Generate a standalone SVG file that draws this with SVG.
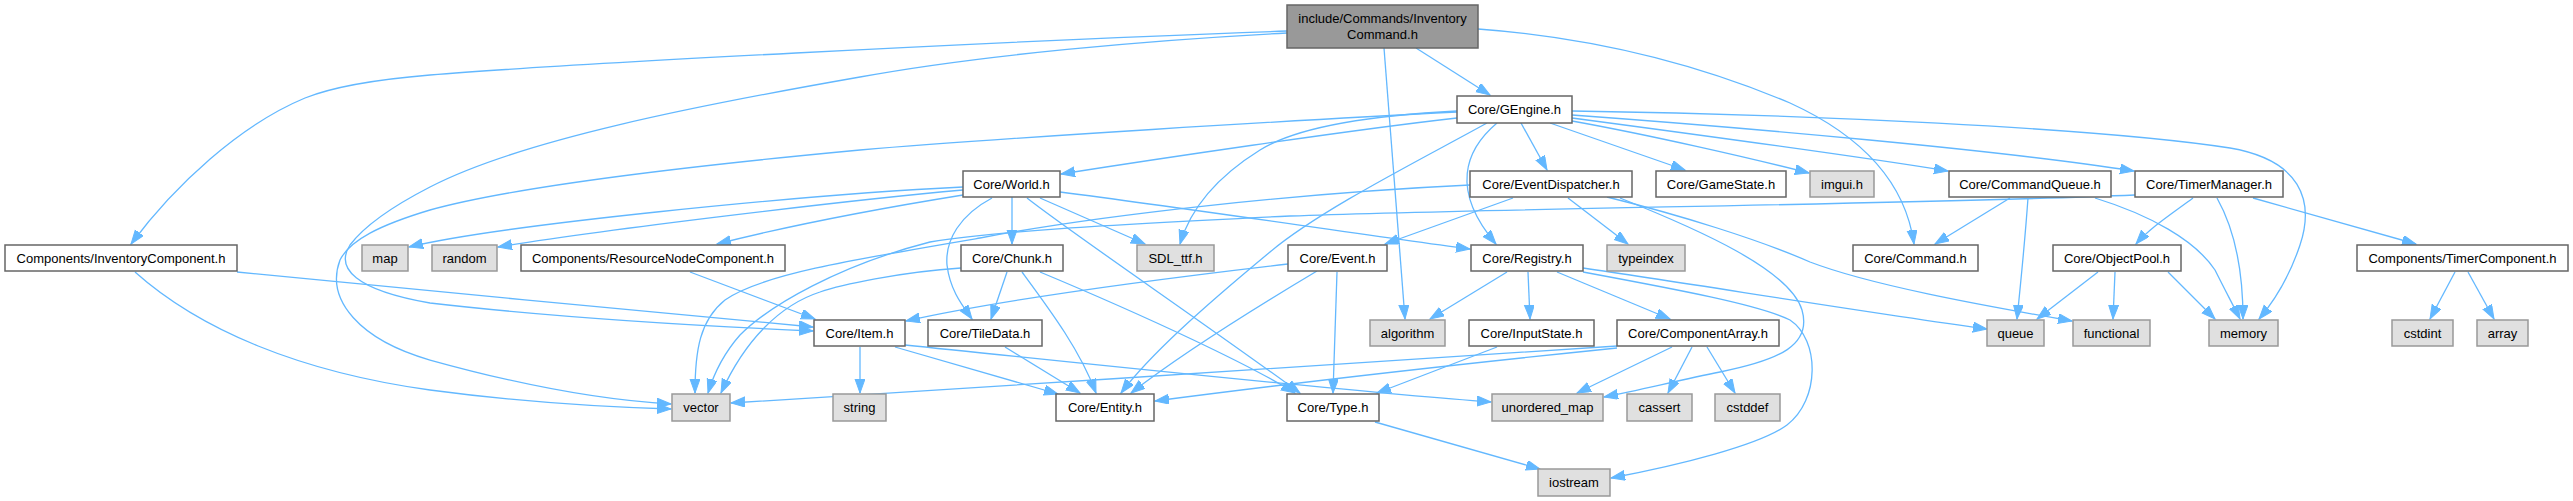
<svg xmlns="http://www.w3.org/2000/svg" width="2573" height="501" viewBox="0 0 2573 501">
<style>
.n rect{fill:#ffffff;stroke:#666666;stroke-width:1.5}
.x rect{fill:#e0e0e0;stroke:#999999;stroke-width:1.5}
.r rect{fill:#999999;stroke:#666666;stroke-width:1.5}
text{font-family:"Liberation Sans",Arial,sans-serif;font-size:13px;fill:#000000;text-anchor:middle}
#edges path{fill:none;stroke:#63b8ff;stroke-width:1.3;marker-end:url(#ah)}
</style>
<defs>
<marker id="ah" markerUnits="userSpaceOnUse" markerWidth="16" markerHeight="12" refX="14" refY="5" orient="auto">
<path d="M0,0 L14,5 L0,10 z" fill="#63b8ff" stroke="#63b8ff" stroke-width="1"/>
</marker>
</defs>
<rect width="2573" height="501" fill="#ffffff"/>
<g id="edges">
<path d="M1416,48 L1490,95"/>
<path d="M1287,31 C1000,41 550,65 430,75 C370,80 330,88 305,98 C240,125 175,185 131,244"/>
<path d="M1287,33 C1150,40 980,55 860,77 C700,105 520,140 430,187 C395,205 365,225 350,245 C335,268 355,290 430,303 C560,318 700,326 813,331"/>
<path d="M1457,112 C1300,120 1000,138 860,150 C700,165 520,185 430,210 C380,225 350,240 340,260 C325,300 360,340 430,360 C520,385 600,400 671,404"/>
<path d="M237,272 C400,288 650,312 813,327"/>
<path d="M135,272 C200,330 300,372 430,390 C520,402 600,407 671,409"/>
<path d="M1384,48 L1405,319"/>
<path d="M1478,29 C1600,38 1700,65 1790,103 C1860,135 1905,180 1914,244"/>
<path d="M1457,118 C1350,130 1150,160 1061,174"/>
<path d="M1457,111 C1380,115 1300,125 1260,150 C1215,178 1190,210 1180,244"/>
<path d="M1487,123 C1420,160 1320,210 1270,252 C1200,310 1150,355 1121,393"/>
<path d="M1497,123 C1465,150 1450,190 1496,244"/>
<path d="M1521,123 L1547,170"/>
<path d="M1550,123 L1685,170"/>
<path d="M1572,121 C1650,135 1750,158 1809,173"/>
<path d="M1572,118 C1700,135 1850,155 1948,171"/>
<path d="M1572,115 C1750,128 2000,150 2134,171"/>
<path d="M1572,111 C1800,114 2100,128 2230,148 C2300,160 2315,200 2300,245 C2290,275 2275,300 2259,319"/>
<path d="M963,187 C800,195 500,225 409,247"/>
<path d="M963,190 C850,200 600,230 498,247"/>
<path d="M963,195 C870,210 780,228 717,244"/>
<path d="M1012,197 L1012,244"/>
<path d="M992,198 C960,215 945,240 947,265 C950,290 962,305 972,319"/>
<path d="M1040,198 L1145,244"/>
<path d="M1027,198 C1070,232 1200,320 1300,393"/>
<path d="M1060,192 C1200,210 1350,233 1470,249"/>
<path d="M1513,198 L1385,244"/>
<path d="M1568,198 L1628,244"/>
<path d="M1607,197 C1680,215 1760,240 1810,262 C1870,285 1980,305 2072,321"/>
<path d="M1620,198 C1700,230 1790,270 1802,310 C1812,345 1780,360 1720,372 C1680,380 1640,390 1604,397"/>
<path d="M1470,185 C1300,193 1100,215 980,238 C850,260 760,275 725,300 C700,320 695,350 695,393"/>
<path d="M2135,195 C1900,205 1500,208 1290,216 C1100,225 990,232 930,242 C840,265 770,305 740,335 C725,352 715,370 708,393"/>
<path d="M961,268 C900,272 840,285 820,292 C780,305 745,340 721,393"/>
<path d="M1007,272 L991,319"/>
<path d="M1022,272 C1050,310 1080,350 1096,393"/>
<path d="M1040,272 C1150,318 1250,365 1295,393"/>
<path d="M690,272 L815,319"/>
<path d="M1288,264 C1150,280 1000,300 906,321"/>
<path d="M1317,271 C1260,305 1180,355 1131,393"/>
<path d="M1337,272 L1333,393"/>
<path d="M860,347 L860,393"/>
<path d="M895,347 L1058,394"/>
<path d="M905,345 C1100,365 1350,392 1491,402"/>
<path d="M1005,347 L1080,393"/>
<path d="M1507,272 L1430,319"/>
<path d="M1528,272 L1530,319"/>
<path d="M1557,272 L1670,319"/>
<path d="M1583,268 C1700,285 1850,310 1987,329"/>
<path d="M1583,272 C1680,290 1760,305 1790,320 C1820,340 1820,400 1787,425 C1760,445 1680,465 1611,478"/>
<path d="M1497,347 L1377,393"/>
<path d="M1617,346 C1400,362 1000,385 731,403"/>
<path d="M1617,348 C1500,360 1300,382 1155,401"/>
<path d="M1672,347 L1577,393"/>
<path d="M1692,347 L1668,393"/>
<path d="M1707,347 L1735,393"/>
<path d="M1375,422 L1540,469"/>
<path d="M2010,198 L1935,244"/>
<path d="M2028,198 C2025,240 2020,290 2017,319"/>
<path d="M2095,198 C2150,215 2195,240 2215,270 C2225,290 2233,305 2240,319"/>
<path d="M2193,198 C2170,215 2150,228 2136,244"/>
<path d="M2217,198 C2235,230 2243,270 2243,319"/>
<path d="M2253,198 L2416,244"/>
<path d="M2098,272 L2037,319"/>
<path d="M2115,272 L2113,319"/>
<path d="M2168,272 L2215,319"/>
<path d="M2455,272 L2430,319"/>
<path d="M2468,272 L2494,319"/>
</g>
<g id="root" class="r"><rect x="1287" y="5" width="191" height="43"/><text x="1382.5" y="23">include/Commands/Inventory</text><text x="1382.5" y="39">Command.h</text></g>
<g id="gengine" class="n"><rect x="1457" y="96" width="115" height="27"/><text x="1514.5" y="114">Core/GEngine.h</text></g>
<g id="world" class="n"><rect x="963" y="171" width="97" height="26"/><text x="1011.5" y="188.5">Core/World.h</text></g>
<g id="eventdispatcher" class="n"><rect x="1470" y="171" width="162" height="26"/><text x="1551" y="188.5">Core/EventDispatcher.h</text></g>
<g id="gamestate" class="n"><rect x="1656" y="171" width="130" height="26"/><text x="1721" y="188.5">Core/GameState.h</text></g>
<g id="imgui" class="x"><rect x="1810" y="171" width="64" height="26"/><text x="1842" y="188.5">imgui.h</text></g>
<g id="commandqueue" class="n"><rect x="1949" y="171" width="162" height="26"/><text x="2030" y="188.5">Core/CommandQueue.h</text></g>
<g id="timermanager" class="n"><rect x="2135" y="171" width="148" height="26"/><text x="2209" y="188.5">Core/TimerManager.h</text></g>
<g id="inventorycomponent" class="n"><rect x="5" y="245" width="232" height="26"/><text x="121" y="262.5">Components/InventoryComponent.h</text></g>
<g id="map" class="x"><rect x="362" y="245" width="46" height="26"/><text x="385" y="262.5">map</text></g>
<g id="random" class="x"><rect x="432" y="245" width="65" height="26"/><text x="464.5" y="262.5">random</text></g>
<g id="resourcenode" class="n"><rect x="521" y="245" width="264" height="26"/><text x="653" y="262.5">Components/ResourceNodeComponent.h</text></g>
<g id="chunk" class="n"><rect x="961" y="245" width="102" height="26"/><text x="1012" y="262.5">Core/Chunk.h</text></g>
<g id="sdlttf" class="x"><rect x="1137" y="245" width="77" height="26"/><text x="1175.5" y="262.5">SDL_ttf.h</text></g>
<g id="event" class="n"><rect x="1288" y="245" width="99" height="26"/><text x="1337.5" y="262.5">Core/Event.h</text></g>
<g id="registry" class="n"><rect x="1471" y="245" width="112" height="26"/><text x="1527" y="262.5">Core/Registry.h</text></g>
<g id="typeindex" class="x"><rect x="1607" y="245" width="78" height="26"/><text x="1646" y="262.5">typeindex</text></g>
<g id="command" class="n"><rect x="1853" y="245" width="125" height="26"/><text x="1915.5" y="262.5">Core/Command.h</text></g>
<g id="objectpool" class="n"><rect x="2053" y="245" width="128" height="26"/><text x="2117" y="262.5">Core/ObjectPool.h</text></g>
<g id="timercomponent" class="n"><rect x="2357" y="245" width="211" height="26"/><text x="2462.5" y="262.5">Components/TimerComponent.h</text></g>
<g id="item" class="n"><rect x="814" y="320" width="91" height="26"/><text x="859.5" y="337.5">Core/Item.h</text></g>
<g id="tiledata" class="n"><rect x="928" y="320" width="114" height="26"/><text x="985" y="337.5">Core/TileData.h</text></g>
<g id="algorithm" class="x"><rect x="1370" y="320" width="75" height="26"/><text x="1407.5" y="337.5">algorithm</text></g>
<g id="inputstate" class="n"><rect x="1469" y="320" width="125" height="26"/><text x="1531.5" y="337.5">Core/InputState.h</text></g>
<g id="componentarray" class="n"><rect x="1617" y="320" width="162" height="26"/><text x="1698" y="337.5">Core/ComponentArray.h</text></g>
<g id="queue" class="x"><rect x="1987" y="320" width="57" height="26"/><text x="2015.5" y="337.5">queue</text></g>
<g id="functional" class="x"><rect x="2073" y="320" width="77" height="26"/><text x="2111.5" y="337.5">functional</text></g>
<g id="memory" class="x"><rect x="2209" y="320" width="69" height="26"/><text x="2243.5" y="337.5">memory</text></g>
<g id="cstdint" class="x"><rect x="2392" y="320" width="61" height="26"/><text x="2422.5" y="337.5">cstdint</text></g>
<g id="array" class="x"><rect x="2477" y="320" width="51" height="26"/><text x="2502.5" y="337.5">array</text></g>
<g id="vector" class="x"><rect x="672" y="394" width="58" height="27"/><text x="701" y="412">vector</text></g>
<g id="string" class="x"><rect x="833" y="394" width="53" height="27"/><text x="859.5" y="412">string</text></g>
<g id="entity" class="n"><rect x="1056" y="394" width="98" height="27"/><text x="1105" y="412">Core/Entity.h</text></g>
<g id="type" class="n"><rect x="1287" y="394" width="92" height="27"/><text x="1333" y="412">Core/Type.h</text></g>
<g id="unorderedmap" class="x"><rect x="1492" y="394" width="111" height="27"/><text x="1547.5" y="412">unordered_map</text></g>
<g id="cassert" class="x"><rect x="1627" y="394" width="65" height="27"/><text x="1659.5" y="412">cassert</text></g>
<g id="cstddef" class="x"><rect x="1715" y="394" width="65" height="27"/><text x="1747.5" y="412">cstddef</text></g>
<g id="iostream" class="x"><rect x="1538" y="469" width="72" height="27"/><text x="1574" y="487">iostream</text></g>
</svg>
